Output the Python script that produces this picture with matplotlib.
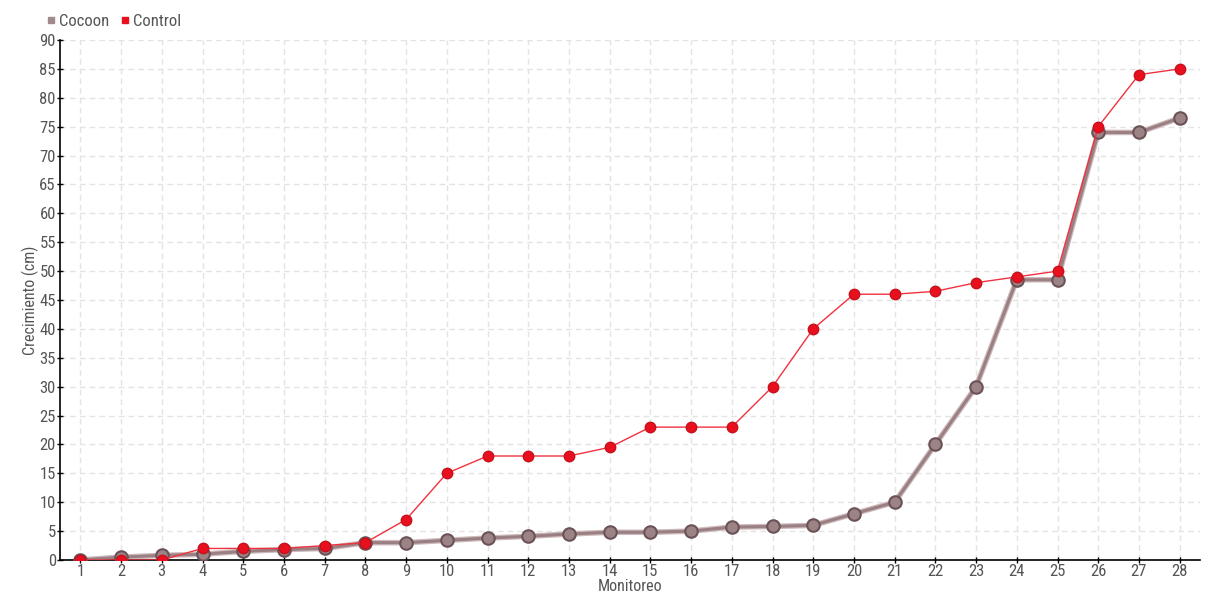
import matplotlib
matplotlib.use("Agg")
import matplotlib.pyplot as plt
from matplotlib.lines import Line2D

plt.rcParams['font.family'] = ['Roboto Condensed', 'DejaVu Sans']

monitoreo = list(range(1, 29))
cocoon = [0, 0.5, 0.8, 1, 1.5, 1.8, 2, 3, 3, 3.4, 3.8, 4.1, 4.5, 4.8, 4.8, 5,
          5.7, 5.8, 6, 8, 10, 20, 30, 48.5, 48.5, 74, 74, 76.5]
control = [0, 0, 0, 2, 2, 2, 2.5, 3, 7, 15, 18, 18, 18, 19.5, 23, 23, 23, 30,
           40, 46, 46, 46.5, 48, 49, 50, 75, 84, 85]
yticks = list(range(0, 95, 5))

txt = '#555555'
fig = plt.figure(figsize=(12.2, 6), dpi=100)
ax = fig.add_axes([60/1220, 40/600, 1140/1220, 520/600])

ax.plot(monitoreo, cocoon, color='#cdb9bb', lw=4, zorder=2)
ax.plot(monitoreo, cocoon, color='#9a7f83', lw=2.2, marker='o', ms=9,
        mfc='#9b8386', mec='#6b5256', mew=1.5, zorder=3)
ax.plot(monitoreo, control, color='#f0313f', lw=1, marker='o', ms=7.5,
        mfc='#e8101e', mec='#c8101c', mew=1, zorder=4)

ax.set_xlim(0.5, 28.5)
ax.set_ylim(0, 90)
ax.set_xticks(monitoreo)
ax.set_yticks(yticks)
ax.grid(True, color='#e3e3e3', ls=(0, (4, 3)), lw=1)
ax.set_axisbelow(True)
for s in ['top', 'right']:
    ax.spines[s].set_visible(False)
for s in ['left', 'bottom']:
    ax.spines[s].set_color('black')
    ax.spines[s].set_linewidth(1.2)
ax.tick_params(axis='both', colors='black', labelcolor=txt, labelsize=12,
               length=4, width=1, direction='inout')
ax.tick_params(axis='x', pad=1)
ax.tick_params(axis='y', pad=1)
ax.set_xlabel('Monitoreo', color=txt, fontsize=11.5)
ax.set_ylabel('Crecimiento (cm)', color=txt, fontsize=11.5)
ax.xaxis.set_label_coords(0.5, -19/520)
ax.yaxis.set_label_coords(-21/1140, 0.5)

handles = [Line2D([], [], ls='none', marker='s', ms=5, mfc='#a08a8d', mec='#a08a8d'),
           Line2D([], [], ls='none', marker='s', ms=5, mfc='#e8101e', mec='#e8101e')]
fig.legend(handles, ['Cocoon', 'Control'], loc='upper left',
           bbox_to_anchor=(46/1220, 1 - 14/600), ncol=2, frameon=False,
           fontsize=12, labelcolor=txt, handlelength=0.6, handletextpad=0.2,
           columnspacing=0.6, borderaxespad=0, borderpad=0)

fig.savefig('out.png', dpi=100)
